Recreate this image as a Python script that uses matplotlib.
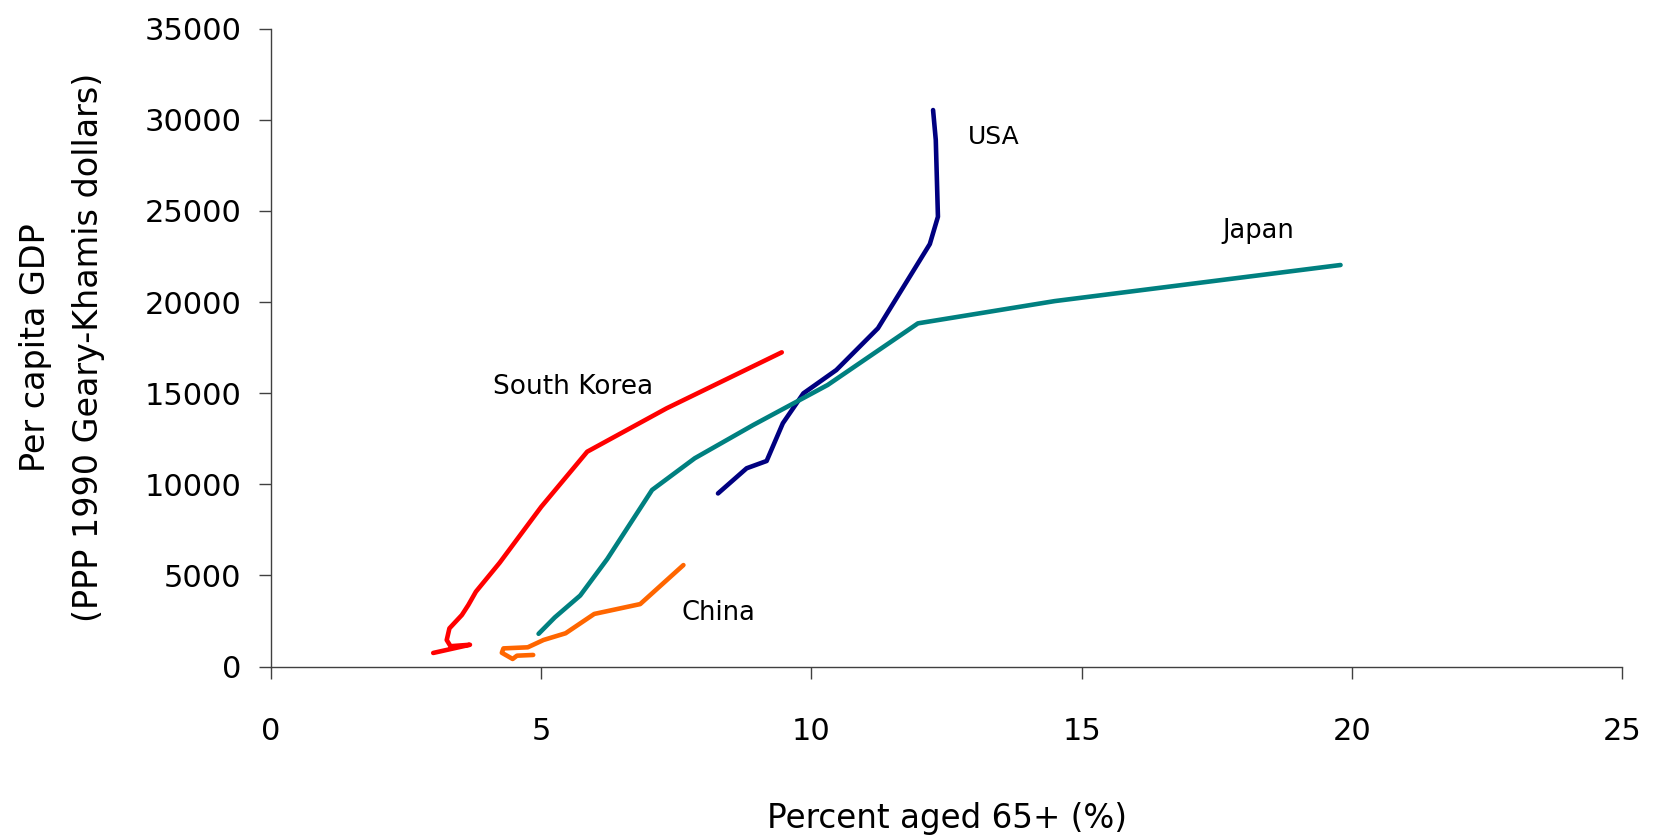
import matplotlib.pyplot as plt

plt.rcParams['font.family'] = ['DejaVu Sans']

# percent aged 65+ (x) and per capita GDP (y)
usa_x = [8.27, 8.80, 9.17, 9.47, 9.85, 10.46, 11.23, 12.19, 12.34, 12.30, 12.25]
usa_y = [9500, 10880, 11280, 13350, 14990, 16270, 18560, 23180, 24680, 28890, 30530]

japan_x = [4.95, 5.25, 5.72, 6.22, 7.05, 7.84, 8.92, 10.30, 11.97, 14.50, 19.79]
japan_y = [1800, 2700, 3900, 5900, 9690, 11430, 13250, 15450, 18830, 20050, 22030]

korea_x = [3.00, 3.68, 3.32, 3.25, 3.30, 3.53, 3.65, 3.79, 4.23, 5.00, 5.85, 7.32, 9.45]
korea_y = [750, 1200, 1120, 1460, 2100, 2830, 3380, 4110, 5700, 8770, 11790, 14170, 17240]

china_x = [7.63, 6.83, 5.98, 5.45, 5.04, 4.75, 4.30, 4.27, 4.47, 4.55, 4.85]
china_y = [5570, 3430, 2890, 1830, 1460, 1060, 1000, 760, 420, 600, 640]

x_ticks = [0, 5, 10, 15, 20, 25]
y_ticks = [0, 5000, 10000, 15000, 20000, 25000, 30000, 35000]

fig = plt.figure(figsize=(16.54, 8.4), dpi=100)
ax = fig.add_axes([0.1639, 0.2064, 0.8168, 0.7596])

style = dict(linewidth=3.3, solid_capstyle='round', solid_joinstyle='round')
ax.plot(usa_x, usa_y, color='#000080', **style)
ax.plot(japan_x, japan_y, color='#008080', **style)
ax.plot(korea_x, korea_y, color='#FF0000', **style)
ax.plot(china_x, china_y, color='#FF6600', **style)

ax.text(13.37, 29040, 'USA', fontsize=18, ha='center', va='center')
ax.text(18.27, 23890, 'Japan', fontsize=18.5, ha='center', va='center')
ax.text(5.58, 15330, 'South Korea', fontsize=19, ha='center', va='center')
ax.text(8.27, 2950, 'China', fontsize=18.5, ha='center', va='center')

ax.set_xlim(0, 25)
ax.set_ylim(0, 35000)
ax.set_xticks(x_ticks)
ax.set_yticks(y_ticks)
ax.tick_params(axis='both', direction='out', length=8.5, width=1, color='#404040', labelsize=22)
ax.tick_params(axis='x', pad=28)
ax.tick_params(axis='y', pad=13)

for side in ['top', 'right']:
    ax.spines[side].set_visible(False)
for side in ['left', 'bottom']:
    ax.spines[side].set_color('#404040')
    ax.spines[side].set_linewidth(1)

ax.set_xlabel('Percent aged 65+ (%)', fontsize=23.5, labelpad=40)
ax.set_ylabel('Per capita GDP\n(PPP 1990 Geary-Khamis dollars)', fontsize=24,
              labelpad=28, linespacing=1.8)

fig.savefig('out.png', dpi=100, facecolor='white')
